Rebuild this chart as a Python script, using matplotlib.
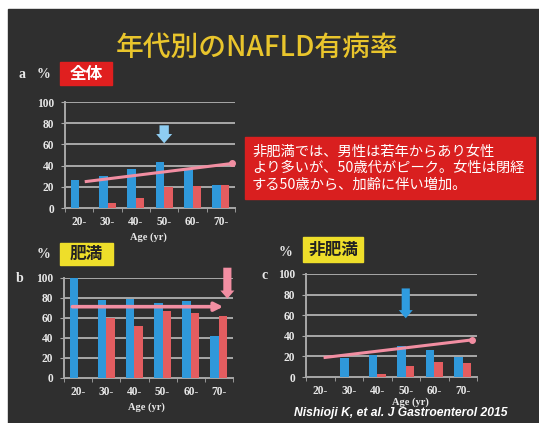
import numpy as np
import matplotlib
matplotlib.use("Agg")
import matplotlib.pyplot as plt
from matplotlib.patches import Rectangle

plt.rcParams['font.family'] = ['Noto Sans CJK JP', 'DejaVu Sans']

W, H = 539, 423

# 年代別 NAFLD 有病率 (%)
ages = ['20-', '30-', '40-', '50-', '60-', '70-']
all_men = [26, 30, 37, 43, 36, 22]
all_women = [0, 5, 9, 20, 21, 22]
obese_men = [100, 78, 79, 75, 77, 42]
obese_women = [0, 60, 52, 67, 65, 62]
lean_men = [0, 18, 21, 30, 26, 19]
lean_women = [0, 0, 3, 11, 15, 14]

# trend lines (x in category units, y in %)
trend_all_x, trend_all_y = [0.25, 5.4], [25, 42]
trend_lean_x, trend_lean_y = [0.17, 5.32], [19, 36]
obese_level = 71

BG = '#2f2f2f'
BLUE = '#2f98da'
RED = '#e35d60'
PINK = '#f28ea2'
GRID = '#a8a8a8'
TXT = '#e8e8e8'
YELLOW = '#eede2a'
ARROW = 'simple,head_width=0.72,head_length=0.42,tail_width=0.42'


def px_axes(fig, left, right, top, bottom):
    return fig.add_axes([left / W, 1 - bottom / H, (right - left) / W, (bottom - top) / H])


def fig_xy(x, y):
    return x / W, 1 - y / H


def bar_panel(ax, men, women):
    ax.set_facecolor('none')
    x = np.arange(len(ages))
    for v in range(20, 101, 20):
        ax.axhline(v, color=GRID, lw=1.4, zorder=1)
    ax.bar(x - 0.15, men, width=0.3, color=BLUE, zorder=3)
    ax.bar(x + 0.15, women, width=0.3, color=RED, zorder=3)
    ax.set_xlim(-0.5, len(ages) - 0.5)
    ax.set_ylim(0, 100)
    for s in ['top', 'right']:
        ax.spines[s].set_visible(False)
    for s in ['left', 'bottom']:
        ax.spines[s].set_color(GRID)
        ax.spines[s].set_linewidth(1.4)
    ax.set_yticks(range(0, 101, 20))
    ax.set_xticks(x)
    ax.set_xticklabels(ages)
    ax.set_xticks(np.arange(-0.5, len(ages)), minor=True)
    ax.tick_params(axis='x', which='major', length=0, pad=6)
    ax.tick_params(axis='x', which='minor', length=3, color=GRID, direction='out')
    ax.tick_params(axis='y', length=3, color=GRID, pad=5)
    for lab in ax.get_xticklabels() + ax.get_yticklabels():
        lab.set_family('Liberation Serif')
        lab.set_fontweight('bold')
        lab.set_fontsize(8.3)
        lab.set_color(TXT)


def down_arrow(ax, x, tip, tail, color, scale):
    ax.annotate('', xy=(x, tip), xytext=(x, tail), annotation_clip=False,
                arrowprops=dict(arrowstyle=ARROW, mutation_scale=scale,
                                shrinkA=0, shrinkB=0, color=color, lw=0), zorder=5)


def label_box(fig, text, x0, x1, y0, y1, face, color):
    fx, fy = fig_xy(x0, y1)
    fig.patches.append(Rectangle((fx, fy), (x1 - x0) / W, (y1 - y0) / H,
                                 transform=fig.transFigure, color=face, zorder=2))
    cx, cy = fig_xy((x0 + x1) / 2, (y0 + y1) / 2)
    fig.text(cx, cy, text, ha='center', va='center', fontsize=12,
             fontweight='bold', color=color, zorder=3)


def serif_text(fig, x, y, s, size=9):
    fx, fy = fig_xy(x, y)
    fig.text(fx, fy, s, ha='center', va='center', family='Liberation Serif',
             fontweight='bold', fontsize=size, color=TXT)


fig = plt.figure(figsize=(W / 100, H / 100), dpi=100, facecolor='white')
fig.patches.append(Rectangle((8 / W, 0), 1, 1 - 9 / H, transform=fig.transFigure,
                             color=BG, zorder=-10))

fx, fy = fig_xy(257, 47)
fig.text(fx, fy, '年代別のNAFLD有病率', ha='center', va='center', fontsize=20,
         fontweight='medium', color='#e9c52c')

# a: 全体
ax_a = px_axes(fig, 65, 235, 102, 208)
bar_panel(ax_a, all_men, all_women)
ax_a.plot(trend_all_x, trend_all_y, color=PINK, lw=2.2, zorder=4)
ax_a.plot(trend_all_x[-1], trend_all_y[-1], 'o', color=PINK, ms=4, zorder=4)
down_arrow(ax_a, 3, 61, 78, '#8ecdf2', 16)
serif_text(fig, 22, 75, 'a', 10)
serif_text(fig, 43, 74, '%', 10)
label_box(fig, '全体', 60, 112, 62, 85, '#e01f1f', 'white')
serif_text(fig, 148, 237, 'Age (yr)', 7.5)

# note box
fx, fy = fig_xy(245, 199)
fig.patches.append(Rectangle((fx, fy), 290 / W, 62 / H, transform=fig.transFigure,
                             color='#d91f1f', zorder=2))
fx, fy = fig_xy(252, 168)
fig.text(fx, fy, '非肥満では、男性は若年からあり女性\nより多いが、50歳代がピーク。女性は閉経\nする50歳から、加齢に伴い増加。',
         ha='left', va='center', fontsize=10.3, color='white', linespacing=1.25, zorder=3)

# b: 肥満
ax_b = px_axes(fig, 64, 233, 277.7, 377.7)
bar_panel(ax_b, obese_men, obese_women)
ax_b.annotate('', xy=(5.25, obese_level), xytext=(-0.3, obese_level),
              arrowprops=dict(arrowstyle='-|>,head_width=0.25,head_length=0.5',
                              color=PINK, lw=2.6), zorder=5)
down_arrow(ax_b, 5.3, 79, 110, PINK, 14)
serif_text(fig, 20, 278, 'b', 10)
serif_text(fig, 43, 255, '%', 10)
label_box(fig, '肥満', 60, 113, 243, 265, YELLOW, '#222222')
serif_text(fig, 146, 407, 'Age (yr)', 7.5)

# c: 非肥満
ax_c = px_axes(fig, 306, 477, 274, 377)
bar_panel(ax_c, lean_men, lean_women)
ax_c.plot(trend_lean_x, trend_lean_y, color=PINK, lw=2.2, zorder=4)
ax_c.plot(trend_lean_x[-1], trend_lean_y[-1], 'o', color=PINK, ms=4, zorder=4)
down_arrow(ax_c, 3, 57, 86, '#2f9ce0', 14)
serif_text(fig, 265, 275, 'c', 10)
serif_text(fig, 285, 252, '%', 10)
label_box(fig, '非肥満', 303, 363, 237, 262, YELLOW, '#222222')
serif_text(fig, 410, 402, 'Age (yr)', 7.5)

fx, fy = fig_xy(401, 413)
fig.text(fx, fy, 'Nishioji K, et al. J Gastroenterol 2015', ha='center', va='center',
         family='Liberation Sans', fontstyle='italic', fontweight='bold',
         fontsize=8.7, color='white')

fig.savefig('out.png', dpi=100, facecolor='white')
